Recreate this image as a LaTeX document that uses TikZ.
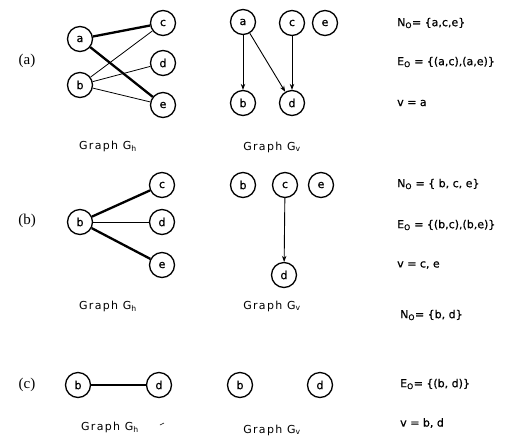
\documentclass[tikz,border=0pt]{standalone}
\usepackage{fontspec}
\setmainfont[FakeBold=0.8]{DejaVu Sans}
\newfontfamily\rowfont{Liberation Serif}
\newfontfamily\labfont[LetterSpace=12]{DejaVu Sans}
\usetikzlibrary{arrows.meta}
\tikzset{
  vert/.style={circle,draw,line width=1.3pt,minimum size=25pt,inner sep=0pt,font=\fontsize{11}{13}\selectfont},
  thin edge/.style={line width=0.8pt},
  thick edge/.style={line width=2.3pt},
  arc/.style={line width=0.9pt,-{Stealth[length=6pt,width=4.5pt]}},
  rowlab/.style={font=\rowfont\fontsize{15}{17}\selectfont},
  graphcap/.style={font=\labfont\fontsize{11}{13}\selectfont},
  settext/.style={anchor=west,font=\fontsize{11}{13}\selectfont,inner sep=0pt}
}
\begin{document}
\begin{tikzpicture}[x=1pt,y=-1pt]
\useasboundingbox (0,0) rectangle (514,440);
% ---------- (a) ----------
\node[rowlab] (la) at (27,61) {(a)};
\node[vert] (ha) at (80,39) {a};
\node[vert] (hb) at (80,85) {b};
\node[vert] (hc) at (163,23) {c};
\node[vert] (hd) at (163,63) {d};
\node[vert] (he) at (163,105) {e};
\draw[thin edge] (hb) -- (hc);
\draw[thin edge] (hb) -- (hd);
\draw[thin edge] (hb) -- (he);
\draw[thick edge] (ha) -- (hc);
\draw[thick edge] (ha) -- (he);
\node[graphcap] (gha) at (108,146) {Graph G\textsubscript{h}};
\node[vert] (va) at (243,22) {a};
\node[vert] (vc) at (292,23) {c};
\node[vert] (ve) at (325,23) {e};
\node[vert] (vb) at (243,103) {b};
\node[vert] (vd) at (292,103) {d};
\draw[arc] (va) -- (vb);
\draw[arc] (va) -- (vd);
\draw[arc] (vc) -- (vd);
\node[graphcap] (gva) at (272,147) {Graph G\textsubscript{v}};
\node[settext] (na) at (397,23) {N\textsubscript{O}= \{a,c,e\}};
\node[settext] (ea) at (397,62) {E\textsubscript{O} = \{(a,c),(a,e)\}};
\node[settext] (wa) at (397,103) {v = a};
% ---------- (b) ----------
\node[rowlab] (lb) at (27,221) {(b)};
\node[vert] (hb2) at (80,222) {b};
\node[vert] (hc2) at (162,185) {c};
\node[vert] (hd2) at (162,222) {d};
\node[vert] (he2) at (162,265) {e};
\draw[thick edge] (hb2) -- (hc2);
\draw[thin edge] (hb2) -- (hd2);
\draw[thick edge] (hb2) -- (he2);
\node[graphcap] (ghb) at (108,306) {Graph G\textsubscript{h}};
\node[vert] (vb2) at (243,185) {b};
\node[vert] (vc2) at (285,185) {c};
\node[vert] (ve2) at (321,185) {e};
\node[vert] (vd2) at (284,275) {d};
\draw[arc] (vc2) -- (vd2);
\node[graphcap] (gvb) at (272,306) {Graph G\textsubscript{v}};
\node[settext] (nb) at (397,184) {N\textsubscript{O} = \{ b, c, e\}};
\node[settext] (eb) at (397,225) {E\textsubscript{O} = \{(b,c),(b,e)\}};
\node[settext] (wb) at (397,265) {v = c, e};
% ---------- (c) ----------
\node[rowlab] (lc) at (27,385) {(c)};
\node[vert] (hb3) at (78,385) {b};
\node[vert] (hd3) at (159,385) {d};
\draw[thick edge] (hb3) -- (hd3);
\node[graphcap] (ghc) at (110,427) {Graph G\textsubscript{h}};
\draw[line width=0.6pt] (160,425) -- (164,423);
\node[vert] (vb3) at (240,385) {b};
\node[vert] (vd3) at (320,385) {d};
\node[graphcap] (gvc) at (272,430) {Graph G\textsubscript{v}};
\node[settext] (nc) at (400,315) {N\textsubscript{O}= \{b, d\}};
\node[settext] (ec) at (400,384) {E\textsubscript{O}= \{(b, d)\}};
\node[settext] (wc) at (400,423) {v = b, d};
\end{tikzpicture}
\end{document}
